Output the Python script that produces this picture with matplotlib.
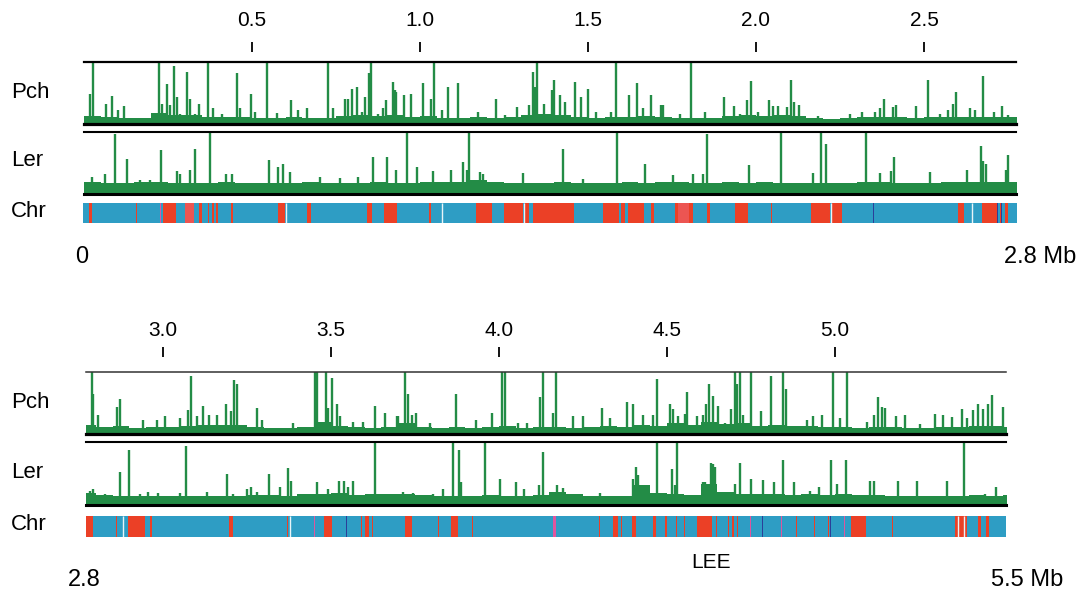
import matplotlib.pyplot as plt
import numpy as np

plt.rcParams['font.family'] = ['Liberation Sans', 'DejaVu Sans']

# ---- top panel, 0 - 2.8 Mb ----
top_ticks = [0.5, 1.0, 1.5, 2.0, 2.5]
top_tick_labels = ['0.5', '1.0', '1.5', '2.0', '2.5']

top_pch_pos = [0.018, 0.028, 0.065, 0.082, 0.102, 0.120, 0.224, 0.231, 0.246, 0.256, 0.268, 0.276,
               0.286, 0.307, 0.315, 0.330, 0.343, 0.368, 0.385, 0.410, 0.454, 0.464, 0.497, 0.509,
               0.544, 0.573, 0.616, 0.638, 0.663, 0.727, 0.742, 0.777, 0.787, 0.797, 0.812, 0.826,
               0.836, 0.849, 0.853, 0.876, 0.891, 0.899, 0.919, 0.926, 0.929, 0.952, 0.972, 1.010,
               1.032, 1.043, 1.065, 1.082, 1.114, 1.174, 1.226, 1.253, 1.290, 1.325, 1.335, 1.342,
               1.348, 1.369, 1.392, 1.399, 1.417, 1.432, 1.461, 1.479, 1.501, 1.524, 1.570, 1.583,
               1.623, 1.647, 1.665, 1.689, 1.716, 1.720, 1.724, 1.774, 1.806, 1.848, 1.905, 1.935,
               1.952, 1.972, 1.985, 2.007, 2.040, 2.052, 2.066, 2.093, 2.104, 2.113, 2.129, 2.185,
               2.280, 2.315, 2.354, 2.369, 2.381, 2.407, 2.417, 2.476, 2.513, 2.548, 2.572, 2.585,
               2.594, 2.637, 2.652, 2.675, 2.709, 2.731, 2.751]
top_pch_h = [0.48, 1.0, 0.33, 0.45, 0.22, 0.29, 1.0, 0.33, 0.64, 0.31, 0.93, 0.44,
             0.16, 0.84, 0.41, 0.16, 0.33, 1.0, 0.25, 0.16, 0.82, 0.25, 0.48, 0.19,
             1.0, 0.18, 0.38, 0.22, 0.25, 1.0, 0.25, 0.41, 0.41, 0.57, 0.60, 0.19,
             0.44, 0.82, 1.0, 0.16, 0.25, 0.38, 0.67, 0.55, 0.51, 0.46, 0.48, 0.66,
             0.41, 1.0, 0.22, 0.60, 0.66, 0.20, 0.41, 0.15, 0.27, 0.30, 0.84, 0.60,
             1.0, 0.33, 0.55, 0.71, 0.46, 0.36, 0.68, 0.44, 0.57, 0.19, 0.19, 1.0,
             0.46, 0.66, 0.25, 0.46, 0.31, 0.31, 0.31, 0.16, 1.0, 0.20, 0.44, 0.29,
             0.16, 0.38, 0.69, 0.20, 0.38, 0.29, 0.29, 0.27, 0.71, 0.36, 0.30, 0.13,
             0.16, 0.20, 0.19, 0.26, 0.41, 0.27, 0.31, 0.29, 0.71, 0.16, 0.22, 0.33,
             0.51, 0.25, 0.22, 0.77, 0.20, 0.29, 0.15]
top_pch_base = [0.13, 0.11, 0.10, 0.09, 0.17, 0.15, 0.14, 0.11, 0.11, 0.11, 0.10, 0.10, 0.11, 0.10,
                0.09, 0.13, 0.15, 0.13, 0.14, 0.12, 0.13, 0.10, 0.09, 0.11, 0.10, 0.12, 0.15, 0.16,
                0.15, 0.12, 0.10, 0.11, 0.12, 0.13, 0.12, 0.10, 0.10, 0.10, 0.13, 0.14, 0.13, 0.15,
                0.13, 0.09, 0.08, 0.09, 0.11, 0.12, 0.11, 0.10, 0.11, 0.12, 0.11, 0.12, 0.11, 0.11]

top_ler_pos = [0.023, 0.062, 0.092, 0.129, 0.167, 0.196, 0.229, 0.276, 0.286, 0.315, 0.330, 0.375,
               0.423, 0.440, 0.552, 0.578, 0.593, 0.613, 0.702, 0.762, 0.816, 0.861, 0.903, 0.930,
               0.960, 0.990, 1.040, 1.091, 1.129, 1.139, 1.147, 1.179, 1.188, 1.307, 1.427, 1.486,
               1.585, 1.670, 1.754, 1.813, 1.843, 1.853, 1.980, 2.076, 2.171, 2.193, 2.208, 2.329,
               2.369, 2.401, 2.411, 2.518, 2.627, 2.670, 2.677, 2.685, 2.744, 2.751]
top_ler_h = [0.27, 0.33, 0.96, 0.57, 0.22, 0.23, 0.71, 0.37, 0.33, 0.38, 0.73, 1.0,
             0.33, 0.33, 0.55, 0.44, 0.48, 0.36, 0.27, 0.26, 0.27, 0.60, 0.60, 0.38,
             1.0, 0.44, 0.37, 0.38, 0.52, 0.38, 1.0, 0.36, 0.33, 0.34, 0.73, 0.25,
             1.0, 0.48, 0.31, 0.33, 0.33, 0.97, 0.46, 1.0, 0.34, 1.0, 0.80, 1.0,
             0.34, 0.37, 0.60, 0.36, 0.38, 0.77, 0.53, 0.48, 0.38, 0.63]
top_ler_base = [0.19, 0.17, 0.18, 0.19, 0.20, 0.18, 0.17, 0.18, 0.19, 0.18, 0.17, 0.17, 0.18, 0.19,
                0.18, 0.18, 0.17, 0.19, 0.18, 0.17, 0.20, 0.19, 0.20, 0.22, 0.19, 0.18, 0.17, 0.18,
                0.19, 0.17, 0.18, 0.17, 0.19, 0.18, 0.20, 0.19, 0.18, 0.17, 0.19, 0.18, 0.20, 0.18,
                0.17, 0.18, 0.17, 0.18, 0.19, 0.19, 0.17, 0.18, 0.18, 0.19, 0.20, 0.19, 0.19, 0.20]

top_red = [(0.016, 0.023), (0.155, 0.159), (0.236, 0.274), (0.342, 0.350), (0.368, 0.372),
           (0.382, 0.386), (0.393, 0.398), (0.439, 0.444), (0.578, 0.598), (0.665, 0.676),
           (0.843, 0.857), (0.893, 0.931), (1.028, 1.032), (1.167, 1.213), (1.250, 1.307),
           (1.313, 1.325), (1.337, 1.459), (1.546, 1.593), (1.597, 1.610), (1.620, 1.667),
           (1.689, 1.696), (1.759, 1.767), (1.800, 1.813), (1.855, 1.863), (1.938, 1.977),
           (2.046, 2.048), (2.163, 2.220), (2.225, 2.255), (2.600, 2.620), (2.674, 2.716),
           (2.725, 2.729), (2.741, 2.751)]
top_lightred = [(0.301, 0.327), (1.767, 1.800)]
top_pink = [(0.227, 0.230)]
top_navy = [(2.348, 2.351), (2.718, 2.721), (2.730, 2.733)]
top_white = [0.601, 1.065, 1.310, 2.223, 2.642]

# ---- bottom panel, 2.8 - 5.5 Mb ----
bot_ticks = [3.0, 3.5, 4.0, 4.5, 5.0]
bot_tick_labels = ['3.0', '3.5', '4.0', '4.5', '5.0']

bot_pch_pos = [2.788, 2.793, 2.807, 2.862, 2.872, 2.941, 2.981, 3.006, 3.051, 3.075, 3.083, 3.100,
               3.120, 3.138, 3.162, 3.188, 3.204, 3.211, 3.219, 3.281, 3.294, 3.388, 3.452, 3.459,
               3.485, 3.492, 3.502, 3.517, 3.527, 3.566, 3.596, 3.631, 3.661, 3.696, 3.700, 3.720,
               3.730, 3.740, 3.753, 3.795, 3.872, 3.932, 3.978, 4.008, 4.018, 4.057, 4.084, 4.122,
               4.130, 4.162, 4.170, 4.221, 4.251, 4.306, 4.330, 4.380, 4.398, 4.429, 4.459, 4.469,
               4.509, 4.517, 4.534, 4.554, 4.559, 4.588, 4.608, 4.616, 4.624, 4.636, 4.653, 4.673,
               4.690, 4.702, 4.709, 4.717, 4.727, 4.749, 4.779, 4.809, 4.846, 4.854, 4.916, 4.934,
               4.960, 4.993, 5.015, 5.035, 5.094, 5.117, 5.129, 5.139, 5.149, 5.183, 5.208, 5.253,
               5.298, 5.322, 5.347, 5.377, 5.392, 5.412, 5.427, 5.441, 5.456, 5.466, 5.501]
bot_pch_h = [1.0, 0.64, 0.31, 0.43, 0.56, 0.23, 0.23, 0.29, 0.26, 0.38, 0.93, 0.29,
             0.45, 0.31, 0.31, 0.49, 0.37, 0.87, 0.80, 0.42, 0.23, 0.18, 1.0, 1.0,
             1.0, 0.42, 0.91, 0.48, 0.29, 0.19, 0.19, 0.45, 0.34, 0.29, 0.29, 1.0,
             0.64, 0.31, 0.34, 0.18, 0.65, 0.23, 0.34, 1.0, 1.0, 0.18, 0.18, 0.59,
             1.0, 0.34, 1.0, 0.29, 0.29, 0.42, 0.26, 0.52, 0.49, 0.31, 0.31, 0.89,
             0.48, 0.40, 0.29, 0.32, 0.67, 0.29, 0.31, 0.49, 0.80, 0.62, 0.45, 0.18,
             0.40, 1.0, 0.80, 1.0, 0.31, 1.0, 0.37, 0.93, 1.0, 0.73, 0.23, 0.29,
             0.30, 1.0, 0.26, 1.0, 0.20, 0.31, 0.59, 0.44, 0.42, 0.29, 0.30, 0.16,
             0.33, 0.31, 0.27, 0.40, 0.26, 0.38, 0.49, 0.40, 0.49, 0.63, 0.43]
bot_pch_base = [0.15, 0.12, 0.13, 0.10, 0.11, 0.12, 0.13, 0.14, 0.14, 0.15, 0.12, 0.09, 0.09, 0.11,
                0.19, 0.13, 0.11, 0.10, 0.12, 0.17, 0.11, 0.10, 0.11, 0.10, 0.11, 0.13, 0.10, 0.11,
                0.12, 0.10, 0.11, 0.13, 0.12, 0.14, 0.13, 0.17, 0.14, 0.19, 0.16, 0.17, 0.13, 0.14,
                0.13, 0.13, 0.12, 0.11, 0.10, 0.12, 0.11, 0.10, 0.10, 0.11, 0.12, 0.13, 0.13, 0.12]

bot_ler_pos = [2.783, 2.793, 2.827, 2.872, 2.898, 2.932, 2.956, 2.986, 3.051, 3.070, 3.130, 3.190,
               3.209, 3.249, 3.261, 3.279, 3.316, 3.348, 3.373, 3.380, 3.459, 3.492, 3.525, 3.539,
               3.552, 3.566, 3.606, 3.631, 3.696, 3.713, 3.745, 3.805, 3.832, 3.864, 3.881, 3.887,
               3.957, 4.003, 4.051, 4.074, 4.120, 4.132, 4.172, 4.190, 4.301, 4.400, 4.408, 4.415,
               4.469, 4.514, 4.524, 4.531, 4.608, 4.613, 4.623, 4.630, 4.638, 4.643, 4.702, 4.717,
               4.749, 4.787, 4.820, 4.844, 4.878, 4.927, 4.952, 4.988, 5.005, 5.032, 5.104, 5.116,
               5.188, 5.243, 5.332, 5.385, 5.447, 5.480]
bot_ler_h = [0.23, 0.25, 0.18, 0.52, 0.88, 0.18, 0.20, 0.19, 0.19, 0.93, 0.20, 0.50,
             0.18, 0.25, 0.28, 0.20, 0.50, 0.28, 0.58, 0.38, 0.37, 0.25, 0.38, 0.38,
             0.28, 0.38, 0.18, 0.98, 0.18, 0.20, 0.19, 0.18, 0.25, 0.98, 0.88, 0.37,
             0.98, 0.41, 0.37, 0.26, 0.31, 0.84, 0.31, 0.27, 0.19, 0.42, 0.61, 0.47,
             0.98, 0.57, 0.31, 0.98, 0.37, 0.37, 0.34, 0.66, 0.65, 0.61, 0.34, 0.66,
             0.41, 0.39, 0.37, 0.72, 0.37, 0.23, 0.28, 0.72, 0.34, 0.72, 0.38, 0.38,
             0.38, 0.38, 0.38, 0.98, 0.18, 0.28]
bot_ler_base = [0.19, 0.16, 0.15, 0.14, 0.14, 0.15, 0.14, 0.15, 0.15, 0.14, 0.16, 0.16, 0.15, 0.17,
                0.18, 0.19, 0.16, 0.17, 0.18, 0.17, 0.16, 0.15, 0.15, 0.15, 0.16, 0.15, 0.15, 0.16,
                0.21, 0.17, 0.15, 0.15, 0.14, 0.31, 0.19, 0.18, 0.16, 0.33, 0.21, 0.17, 0.18, 0.17,
                0.16, 0.17, 0.16, 0.17, 0.16, 0.16, 0.15, 0.14, 0.15, 0.14, 0.15, 0.16, 0.15, 0.16]

bot_red = [(2.771, 2.793), (2.860, 2.863), (2.897, 2.946), (2.961, 2.966), (3.197, 3.209),
           (3.368, 3.373), (3.480, 3.504), (3.590, 3.593), (3.601, 3.614), (3.623, 3.626),
           (3.720, 3.740), (3.818, 3.821), (3.856, 3.879), (3.919, 3.923), (4.297, 4.300),
           (4.338, 4.355), (4.362, 4.365), (4.395, 4.408), (4.459, 4.467), (4.494, 4.499),
           (4.526, 4.529), (4.550, 4.553), (4.588, 4.633), (4.645, 4.648), (4.682, 4.685),
           (4.694, 4.699), (4.707, 4.712), (4.883, 4.886), (4.939, 4.942), (4.978, 4.983),
           (5.049, 5.092), (5.171, 5.174), (5.357, 5.392), (5.427, 5.434), (5.449, 5.457)]
bot_lightred = []
bot_pink = [(3.451, 3.454), (4.162, 4.170), (4.746, 4.749), (4.840, 4.843), (5.026, 5.029)]
bot_navy = [(3.546, 3.549), (4.784, 4.787), (4.986, 4.989)]
bot_white = [2.881, 3.378, 5.366, 5.385]

green = '#238c46'
chr_blue = '#2e9dc4'
chr_red = '#eb4026'

W, H = 1080, 594
fig = plt.figure(figsize=(W / 100, H / 100), dpi=100)


def px_axes(x0, y0, x1, y1):
    return fig.add_axes([x0 / W, 1 - y1 / H, (x1 - x0) / W, (y1 - y0) / H])


def draw_track(ax, xlim, base_start, base, pos, h, top_lw, top_color, bottom_lw):
    edges = base_start + 0.05 * np.arange(len(base) + 1)
    ax.fill_between(edges, np.append(base, base[-1]), step='post', color=green, lw=0)
    ax.vlines(pos, 0, h, color=green, lw=1.7)
    ax.axhline(1, color=top_color, lw=top_lw, clip_on=False)
    ax.axhline(0, color='black', lw=bottom_lw, clip_on=False)
    ax.set_xlim(*xlim)
    ax.set_ylim(0, 1)
    ax.axis('off')


def draw_chr(ax, xlim, red, lightred, pink, navy, white):
    ax.set_facecolor(chr_blue)
    ax.broken_barh([(a, b - a) for a, b in red], (0, 1), color=chr_red, lw=0)
    ax.broken_barh([(a, b - a) for a, b in lightred], (0, 1), color='#ec5552', lw=0)
    ax.broken_barh([(a, b - a) for a, b in pink], (0, 1), color='#e0559e', lw=0)
    ax.broken_barh([(a, b - a) for a, b in navy], (0, 1), color='#2b3f99', lw=0)
    ax.vlines(white, 0, 1, color='#e8f4f8', lw=1.0)
    ax.set_xlim(*xlim)
    ax.set_ylim(0, 1)
    ax.set_xticks([])
    ax.set_yticks([])
    for s in ax.spines.values():
        s.set_visible(False)


def draw_scale(ax, xlim, ticks, labels, label_y):
    ax.vlines(ticks, 0, 1, color='black', lw=1.3)
    for t, lab in zip(ticks, labels):
        ax.text(t, label_y, lab, ha='center', va='center', fontsize=15)
    ax.set_xlim(*xlim)
    ax.set_ylim(0, 1)
    ax.axis('off')


# top panel
xl_top = (0, 2.774)
draw_scale(px_axes(84, 42, 1016, 52), xl_top, top_ticks, top_tick_labels, 3.1)
draw_track(px_axes(84, 62, 1016, 124), xl_top, 0.0, top_pch_base, top_pch_pos, top_pch_h, 1.6, 'black', 2.3)
draw_track(px_axes(84, 132, 1016, 194), xl_top, 0.0, top_ler_base, top_ler_pos, top_ler_h, 1.5, 'black', 2.2)
draw_chr(px_axes(83, 203, 1017, 223), (-0.003, 2.777), top_red, top_lightred, top_pink, top_navy, top_white)

# bottom panel
xl_bot = (2.771, 5.509)
draw_scale(px_axes(86, 347, 1006, 357), xl_bot, bot_ticks, bot_tick_labels, 2.7)
draw_track(px_axes(86, 372, 1006, 434), xl_bot, 2.75, bot_pch_base, bot_pch_pos, bot_pch_h, 1.1, '#333333', 2.3)
draw_track(px_axes(86, 442, 1006, 505), xl_bot, 2.75, bot_ler_base, bot_ler_pos, bot_ler_h, 1.5, 'black', 2.2)
draw_chr(px_axes(86, 516, 1006, 537), xl_bot, bot_red, bot_lightred, bot_pink, bot_navy, bot_white)


def ftext(x, y, s, **kw):
    fig.text(x / W, 1 - y / H, s, va='center', **kw)


for label, y in [('Pch', 92), ('Ler', 161), ('Chr', 212), ('Pch', 403), ('Ler', 472), ('Chr', 525)]:
    ftext(11, y, label, ha='left', fontsize=16)

ftext(82, 257, '0', ha='center', fontsize=17)
ftext(1076, 257, '2.8 Mb', ha='right', fontsize=17)
ftext(84, 580, '2.8', ha='center', fontsize=17)
ftext(1063, 580, '5.5 Mb', ha='right', fontsize=17)
ftext(711, 563, 'LEE', ha='center', fontsize=15)

fig.savefig('out.png', dpi=100)
